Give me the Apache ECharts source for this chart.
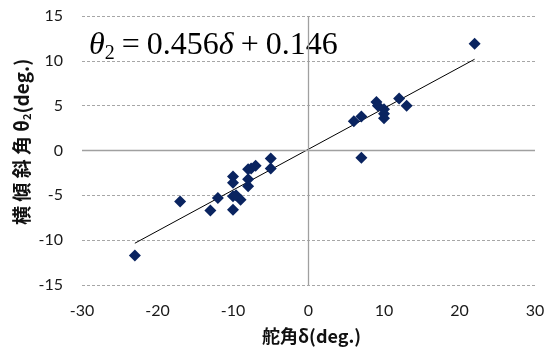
<!DOCTYPE html>
<html><head><meta charset="utf-8">
<script src="https://cdn.jsdelivr.net/npm/echarts@6/dist/echarts.min.js"></script>
<style>html,body{margin:0;padding:0;background:#fff}#c{width:557px;height:353px}</style>
</head><body><div id="c"></div>
<script>
var delta = [22, 12, 13, 9, 9.2, 10, 10, 10, 6, 7, 7,
  -23, -17, -13, -12, -10, -10, -10, -10, -9, -9.6, -8, -8, -8, -7.6, -7, -5, -5];
var theta = [11.9, 5.8, 5.0, 5.4, 5.0, 4.6, 4.1, 3.6, 3.25, 3.8, -0.8,
  -11.7, -5.7, -6.7, -5.3, -6.6, -5.1, -3.6, -2.9, -5.5, -5.0, -4.0, -3.2, -2.1, -2.0, -1.7, -0.9, -2.0];
var xTicks = [-30, -20, -10, 0, 10, 20, 30];
var yTicks = [-15, -10, -5, 0, 5, 10, 15];
var slope = 0.456, intercept = 0.146;
var fitX = [-23, 22];

var pts = delta.map(function(d, i){ return [d, theta[i]]; });
var fit = fitX.map(function(x){ return [x, slope * x + intercept]; });

var chart = echarts.init(document.getElementById('c'));
chart.setOption({
  animation: false,
  grid: {left: 82, right: 22, top: 16, bottom: 68},
  xAxis: {
    type: 'value', min: xTicks[0], max: xTicks[xTicks.length-1], interval: 10,
    axisLine: {show: false}, axisTick: {show: false}, splitLine: {show: false},
    axisLabel: {margin: 18, fontSize: 16, color: '#1a1a1a', fontFamily: 'Lato'}
  },
  yAxis: {
    type: 'value', min: yTicks[0], max: yTicks[yTicks.length-1], interval: 5,
    axisLine: {show: false}, axisTick: {show: false},
    splitLine: {show: true, lineStyle: {color: '#a6a6a6', type: [3, 2], width: 1}},
    axisLabel: {margin: 19, fontSize: 16, color: '#1a1a1a', fontFamily: 'Lato'}
  },
  graphic: [
    {type: 'text', left: 262, top: 327,
     style: {text: '舵角δ(deg.)', font: 'bold 18px "Noto Sans CJK JP"', fill: '#111'}},
    {type: 'text', x: 12, y: 225, rotation: Math.PI/2,
     style: {text: '{a|横 傾 斜 角 θ}{s|2}{a|(deg.)}', fill: '#111',
       rich: {a: {font: 'bold 19px "Noto Sans CJK JP"', fill: '#111'},
              s: {font: 'bold 11px "Noto Sans CJK JP"', fill: '#111', padding: [9, 0, 0, 0]}}}},
    {type: 'text', left: 89, top: 30,
     style: {text: '{i|θ}{s|2}{o|=}{n|0.456}{i|δ}{o|+}{n|0.146}', fill: '#000',
       rich: {i: {font: 'italic 32px "Liberation Serif"', fill: '#000'},
              n: {font: '32px "Liberation Serif"', fill: '#000'},
              o: {font: '32px "Liberation Serif"', fill: '#000', padding: [0, 7, 0, 7]},
              s: {font: '20px "Liberation Serif"', fill: '#000', padding: [15, 0, 0, 0]}}}}
  ],
  series: [
    {type: 'line', data: fit, symbol: 'none', silent: true,
     lineStyle: {color: '#000', width: 1}, z: 3,
     markLine: {silent: true, symbol: 'none', label: {show: false},
       lineStyle: {color: '#a0a0a0', type: 'solid', width: 1.3},
       data: [{xAxis: 0}, {yAxis: 0}]}},
    {type: 'scatter', data: pts, symbol: 'diamond', symbolSize: 12,
     itemStyle: {color: '#0a2460', opacity: 1}, z: 4}
  ]
});
</script></body></html>
